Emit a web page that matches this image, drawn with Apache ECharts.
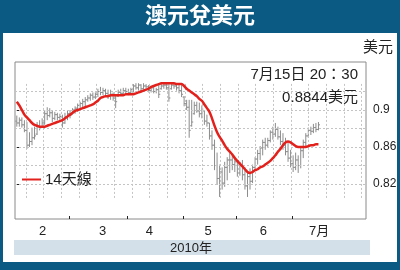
<!DOCTYPE html>
<html><head><meta charset="utf-8">
<script src="https://cdn.jsdelivr.net/npm/echarts@6/dist/echarts.min.js"></script>
<style>
html,body{margin:0;padding:0;}
#wrap{position:relative;width:400px;height:270px;background:#0b5a83;overflow:hidden;}
#panel{position:absolute;left:3px;top:33px;width:394px;height:229px;background:#fff;}
#chart{position:absolute;left:0;top:0;width:400px;height:270px;}
</style></head>
<body><div id="wrap"><div id="panel"></div><div id="chart"></div></div>
<script>
// Daily AUD/USD bars, day index 0 = 29 Jan 2010 ... 119 = 15 Jul 2010
const openV = [0.888,0.886,0.889,0.884,0.878,0.862,0.866,0.870,0.874,0.882,0.882,0.886,0.896,0.894,0.897,0.891,0.895,0.892,0.893,0.886,
0.893,0.896,0.896,0.900,0.902,0.905,0.907,0.909,0.911,0.913,0.916,0.914,0.917,0.920,0.919,0.921,0.918,0.915,0.917,0.913,
0.915,0.919,0.918,0.921,0.920,0.919,0.922,0.926,0.924,0.927,0.923,0.926,0.925,0.921,0.924,0.920,0.922,0.923,0.926,0.927,
0.924,0.923,0.927,0.926,0.924,0.921,0.914,0.907,0.903,0.883,0.896,0.905,0.899,0.896,0.899,0.888,0.886,0.872,0.862,0.840,
0.826,0.833,0.821,0.838,0.846,0.846,0.841,0.844,0.832,0.840,0.830,0.818,0.828,0.823,0.838,0.847,0.853,0.859,0.865,0.862,
0.867,0.876,0.874,0.879,0.871,0.866,0.862,0.855,0.848,0.842,0.838,0.846,0.840,0.856,0.865,0.872,0.878,0.877,0.881,0.879];
const highV = [0.894,0.892,0.892,0.889,0.887,0.876,0.881,0.882,0.887,0.889,0.891,0.900,0.903,0.902,0.900,0.898,0.897,0.896,0.895,0.897,
0.900,0.900,0.902,0.904,0.907,0.909,0.912,0.914,0.916,0.918,0.919,0.919,0.923,0.925,0.924,0.923,0.922,0.922,0.919,0.916,
0.922,0.923,0.924,0.924,0.923,0.924,0.928,0.929,0.929,0.928,0.929,0.928,0.927,0.926,0.926,0.924,0.927,0.929,0.930,0.929,
0.928,0.930,0.930,0.929,0.928,0.928,0.915,0.911,0.911,0.911,0.909,0.909,0.908,0.905,0.900,0.895,0.886,0.878,0.868,0.854,
0.841,0.838,0.844,0.849,0.854,0.851,0.848,0.844,0.844,0.846,0.838,0.833,0.837,0.841,0.849,0.857,0.861,0.868,0.870,0.870,
0.878,0.882,0.886,0.882,0.878,0.875,0.870,0.865,0.857,0.851,0.854,0.851,0.859,0.868,0.875,0.881,0.882,0.885,0.886,0.887];
const lowV = [0.882,0.882,0.881,0.876,0.858,0.860,0.862,0.868,0.873,0.878,0.881,0.884,0.889,0.892,0.887,0.889,0.889,0.888,0.881,0.885,
0.889,0.891,0.895,0.896,0.898,0.900,0.903,0.904,0.909,0.910,0.911,0.912,0.914,0.916,0.916,0.915,0.912,0.911,0.910,0.902,
0.914,0.916,0.916,0.917,0.916,0.917,0.919,0.922,0.921,0.919,0.922,0.923,0.919,0.919,0.918,0.918,0.913,0.922,0.923,0.922,
0.909,0.922,0.923,0.921,0.918,0.914,0.904,0.900,0.870,0.882,0.895,0.897,0.892,0.891,0.884,0.882,0.868,0.857,0.835,0.819,
0.806,0.814,0.817,0.824,0.832,0.835,0.833,0.828,0.829,0.824,0.814,0.806,0.814,0.821,0.835,0.841,0.846,0.851,0.857,0.859,
0.865,0.868,0.871,0.868,0.862,0.857,0.851,0.844,0.838,0.833,0.835,0.832,0.837,0.848,0.860,0.870,0.873,0.875,0.876,0.878];
const closeV = [0.886,0.889,0.884,0.878,0.862,0.866,0.870,0.872,0.882,0.880,0.886,0.896,0.894,0.897,0.891,0.895,0.892,0.893,0.886,0.893,
0.896,0.894,0.900,0.902,0.905,0.907,0.909,0.911,0.913,0.916,0.914,0.917,0.920,0.919,0.921,0.918,0.915,0.917,0.913,0.909,
0.919,0.918,0.921,0.920,0.919,0.922,0.926,0.924,0.927,0.923,0.926,0.925,0.921,0.924,0.920,0.922,0.917,0.926,0.927,0.924,
0.913,0.927,0.926,0.924,0.921,0.917,0.907,0.903,0.878,0.887,0.905,0.899,0.896,0.901,0.888,0.886,0.872,0.862,0.840,0.826,
0.833,0.821,0.838,0.846,0.846,0.841,0.844,0.832,0.840,0.830,0.818,0.828,0.823,0.838,0.847,0.853,0.859,0.865,0.862,0.867,
0.876,0.874,0.879,0.871,0.866,0.862,0.855,0.848,0.842,0.838,0.846,0.840,0.856,0.865,0.872,0.878,0.877,0.881,0.879,0.884];
// 14-day moving average
const ma14 = [0.909,0.905,0.900,0.895,0.892,0.889,0.886,0.884,0.883,0.882,0.882,0.882,0.883,0.884,0.885,0.886,0.887,0.888,0.889,0.891,
0.893,0.895,0.897,0.899,0.900,0.901,0.902,0.903,0.904,0.905,0.906,0.908,0.910,0.913,0.914,0.915,0.915,0.916,0.916,0.916,
0.916,0.916,0.916,0.917,0.917,0.917,0.917,0.918,0.919,0.920,0.921,0.922,0.923,0.925,0.926,0.927,0.928,0.929,0.929,0.929,
0.929,0.929,0.929,0.928,0.928,0.928,0.926,0.923,0.921,0.919,0.917,0.915,0.912,0.910,0.906,0.902,0.898,0.891,0.883,0.876,
0.871,0.867,0.862,0.858,0.855,0.852,0.848,0.845,0.842,0.839,0.836,0.833,0.832,0.833,0.835,0.836,0.838,0.839,0.841,0.843,
0.845,0.848,0.851,0.855,0.858,0.862,0.865,0.866,0.865,0.863,0.861,0.860,0.860,0.860,0.860,0.861,0.862,0.862,0.863,0.863];
// month boundaries (day index) and month label positions
const monthTicks = [20.5, 43.5, 65.5, 86.5, 108.5];
const monthLabelPos = [10.2, 33.9, 52.3, 75.5, 97.3, 119.3];
const monthLabels = ['2', '3', '4', '5', '6', '7月'];
const yTicks = [0.82, 0.86, 0.9];
const hGrid = [0.82, 0.84, 0.86, 0.88, 0.90, 0.92];
const vGrid = [3.6, 10.6, 17.5, 24.5, 31.5, 38.5, 45.4, 52.4, 59.4, 66.3, 73.3, 80.3, 87.2, 94.2, 101.2, 108.1, 115.1, 122.1, 129.0, 136.0];
const vGridRange = [0.805, 0.930];

const FONT = '"Liberation Sans", "Noto Sans CJK TC", sans-serif';
const ohlc = openV.map((o, i) => [i, o, highV[i], lowV[i], closeV[i]]);
const maData = ma14.map((v, i) => [i, v]);

const gridLines = hGrid.map(v => ({ yAxis: v }))
  .concat(vGrid.map(x => [{ coord: [x, vGridRange[0]] }, { coord: [x, vGridRange[1]] }]));

const chart = echarts.init(document.getElementById('chart'), null, { renderer: 'canvas' });
chart.setOption({
  animation: false,
  backgroundColor: 'transparent',
  grid: { left: 15, top: 62, width: 351, height: 157, show: true, borderColor: '#8a8a8a', borderWidth: 1, backgroundColor: 'transparent' },
  xAxis: {
    type: 'value', min: -0.71, max: 137.75,
    axisLine: { show: false },
    splitLine: { show: false },
    axisTick: { show: true, inside: true, length: 3, customValues: monthTicks, lineStyle: { color: '#222', width: 1 } },
    axisLabel: {
      customValues: monthLabelPos, margin: 6, color: '#222', fontSize: 13, fontFamily: FONT,
      formatter: v => { const k = monthLabelPos.indexOf(v); return k >= 0 ? monthLabels[k] : ''; }
    }
  },
  yAxis: {
    type: 'value', position: 'right', min: 0.7822, max: 0.9519,
    axisLine: { show: false },
    splitLine: { show: false },
    axisTick: { show: true, length: 4, customValues: yTicks, lineStyle: { color: '#222', width: 1 } },
    axisLabel: {
      customValues: yTicks, margin: 7, color: '#222', fontSize: 12, fontFamily: FONT,
      formatter: v => String(parseFloat(v.toFixed(2)))
    }
  },
  series: [
    {
      type: 'line', data: maData, symbol: 'none', z: 1, silent: true,
      lineStyle: { opacity: 0 },
      markLine: {
        silent: true, symbol: ['none', 'none'], label: { show: false },
        lineStyle: { color: '#c4c4c4', type: [2, 2], width: 1 },
        data: gridLines, animation: false
      }
    },
    {
      type: 'custom', z: 3,
      data: ohlc,
      encode: { x: 0, y: [1, 2, 3, 4] },
      renderItem: (params, api) => {
        const x = api.value(0);
        const ph = api.coord([x, api.value(2)]);
        const pl = api.coord([x, api.value(3)]);
        const po = api.coord([x, api.value(1)]);
        const pc = api.coord([x, api.value(4)]);
        const st = { stroke: '#8c8c8c', lineWidth: 1 };
        return { type: 'group', children: [
          { type: 'line', shape: { x1: ph[0], y1: ph[1], x2: pl[0], y2: pl[1] }, style: st },
          { type: 'line', shape: { x1: po[0] - 1.5, y1: po[1], x2: po[0], y2: po[1] }, style: st },
          { type: 'line', shape: { x1: pc[0], y1: pc[1], x2: pc[0] + 1.5, y2: pc[1] }, style: st }
        ]};
      }
    },
    {
      type: 'line', data: maData, symbol: 'none', z: 5, smooth: 0.3,
      lineStyle: { color: '#e3211c', width: 2.5 }
    }
  ],
  graphic: [
    { type: 'text', left: 'center', top: 4, style: { text: '澳元兌美元', fill: '#fff', font: 'bold 22px "Noto Sans CJK TC", sans-serif' } },
    { type: 'rect', shape: { x: 14, y: 240, width: 356, height: 15 }, style: { fill: '#d3dfe9' }, z: 0 },
    { type: 'text', x: 191, y: 248, style: { text: '2010年', fill: '#222', font: '13px ' + FONT, textAlign: 'center', textVerticalAlign: 'middle' } },
    { type: 'text', x: 378, y: 48, style: { text: '美元', fill: '#222', font: '15px ' + FONT, textAlign: 'center', textVerticalAlign: 'middle' } },
    { type: 'text', x: 358, y: 75, z: 10, style: { text: '7月15日 20：30', fill: '#222', font: '15px ' + FONT, textAlign: 'right', textVerticalAlign: 'middle' } },
    { type: 'text', x: 358, y: 98, z: 10, style: { text: '0.8844美元', fill: '#222', font: '15px ' + FONT, textAlign: 'right', textVerticalAlign: 'middle' } },
    { type: 'line', shape: { x1: 22, y1: 179.5, x2: 41, y2: 179.5 }, style: { stroke: '#e3211c', lineWidth: 2 }, z: 10 },
    { type: 'text', x: 45, y: 180, z: 10, style: { text: '14天線', fill: '#222', font: '15px ' + FONT, textAlign: 'left', textVerticalAlign: 'middle' } }
  ]
});
</script></body></html>
